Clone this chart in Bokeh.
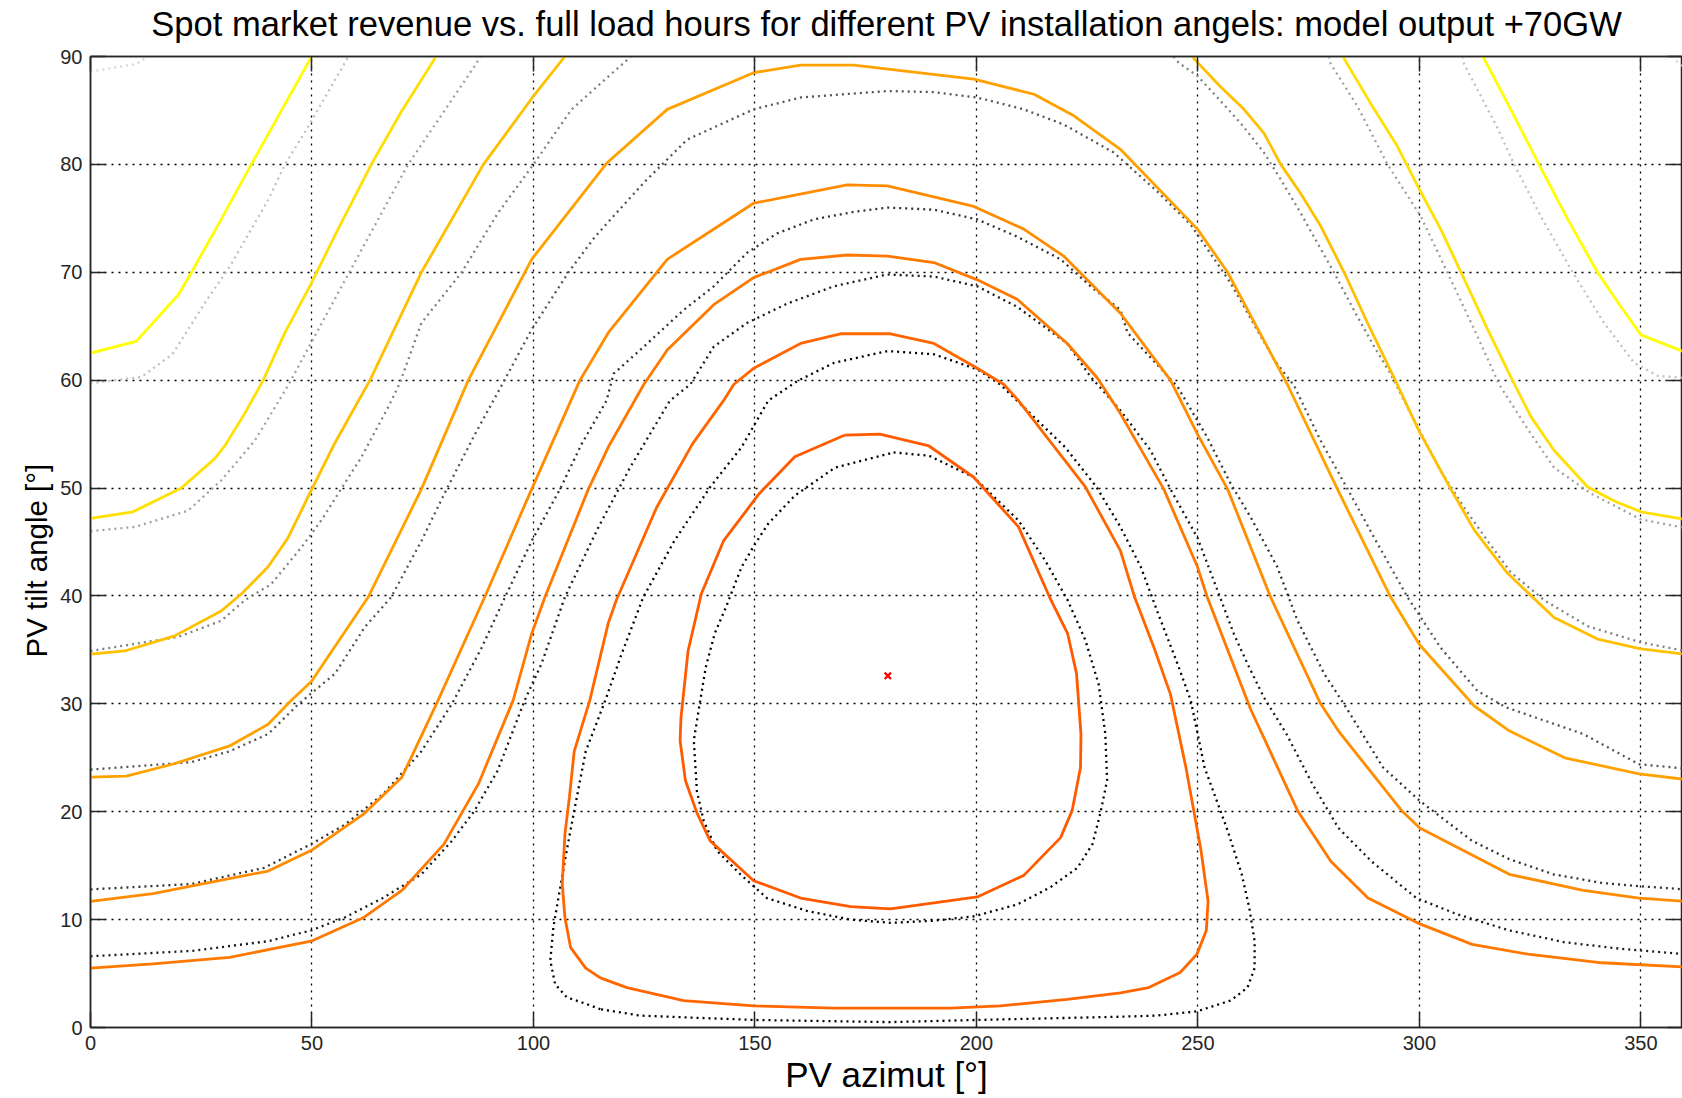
import numpy as np
from bokeh.plotting import figure
from bokeh.models import LinearAxis, Range1d, FixedTicker, Title
from bokeh.embed import file_html
from bokeh.resources import INLINE

nan = float("nan")

TITLE = "Spot market revenue vs. full load hours for different PV installation angels: model output +70GW"

# ---- tick labels ----
x_ticks = [0, 50, 100, 150, 200, 250, 300, 350]
y_ticks = [0, 10, 20, 30, 40, 50, 60, 70, 80, 90]

# ---- model output contours (solid) ----
s1_x = [0, 10.3, 19.8, 22.8, 29.5, 36.3, 42.7, 49.5, 49.9, nan, 314.3, 314.6, 321, 327, 333.5, 340.2, 345.5, 350, 360]
s1_y = [62.5, 63.6, 67.9, 70, 74.9, 80, 84.7, 89.7, 90, nan, 90, 89.8, 84.8, 80, 74.9, 70, 66.8, 64.2, 62.6]

s2_x = [0, 9.6, 20.5, 28, 30.3, 34.8, 39, 43.9, 49.5, 55.9, 63.4, 70.2, 77.7, 77.9, nan,
        282.8, 283, 289.8, 295, 299.6, 304.8, 309.4, 315.4, 321, 325.2, 330.4, 338, 344, 350, 360]
s2_y = [47.2, 47.8, 50, 52.7, 53.9, 56.9, 60, 64.4, 68.7, 74, 80, 84.9, 89.8, 90, nan,
        90, 89.8, 85.1, 81.7, 78, 74, 70, 64.7, 60, 56.6, 53.5, 50.1, 48.8, 47.8, 47.1]

s3_x = [0, 7.7, 19, 29.5, 34.1, 40.1, 44.6, 49.5, 55.2, 63.1, 74.7, 88.7, 100.3, 107.1, nan,
        249, 249.1, 255.1, 260.4, 264.9, 268.7, 273.2, 277.7, 283, 288.3, 295, 299.9, 307.1, 312.4, 319.9, 330.4, 340.2, 350, 360]
s3_y = [34.6, 34.9, 36.3, 38.6, 40.2, 42.7, 45.4, 49.5, 54.2, 60, 70, 80, 86.5, 90, nan,
        90, 89.8, 87.2, 85.1, 82.9, 80, 77.3, 74.3, 70, 65.3, 59.6, 55.3, 49.9, 46.1, 42.1, 38, 36, 35.1, 34.6]

s4_x = [0, 8.1, 18.5, 31.4, 40.1, 45.3, 49.9, 62.7, 74.7, 85.3, 99.6, 116.5, 130.2, 149.7, 160.3, 172.3, 199.4, 213, 222,
        232.5, 249.9, 256.7, 270.2, 281.5, 293.5, 300, 312.4, 320.3, 332.8, 349.6, 360]
s4_y = [23.2, 23.3, 24.4, 26.1, 28.1, 30.3, 32.1, 39.9, 49.9, 60, 71.2, 80.1, 85.1, 88.5, 89.2, 89.2, 87.9, 86.5, 84.5,
        81.4, 74, 70, 59.6, 49.9, 39.9, 35.5, 29.8, 27.5, 25, 23.5, 23]

s5_x = [0, 14.1, 40.1, 49.8, 61.7, 70.3, 78.1, 89, 99.6, 110.5, 116.9, 130.2, 149.7, 170.8, 179.9, 199.4, 210.7, 219.7,
        232.5, 243.8, 249.9, 256.7, 266.4, 277.7, 281.7, 296, 300.1, 320.3, 337, 349.6, 360]
s5_y = [11.7, 12.4, 14.5, 16.4, 19.8, 23.2, 30, 39.9, 49.9, 60, 64.4, 71.2, 76.4, 78.1, 78, 76.1, 74, 71.5,
        66.2, 60, 55, 49.9, 39.9, 30, 27.5, 20.1, 18.5, 14.2, 12.7, 12, 11.7]

s6_x = [0, 14.1, 31.4, 49.8, 61.7, 70.3, 79.8, 87.6, 95.4, 99.6, 102.6, 112.4, 116.9, 124.9, 130.2, 140.7, 149.7, 160.3,
        170.8, 179.9, 190.4, 200.2, 209.2, 220.5, 227.3, 232.5, 242.3, 249.9, 252.1, 261.9, 272.5, 280, 288.4, 300.1,
        311.9, 324.5, 341.2, 360]
s6_y = [5.5, 5.9, 6.5, 8, 10.2, 12.7, 17, 22.6, 30.3, 36.5, 39.9, 49.9, 53.8, 59.6, 62.8, 67, 69.5, 71.2,
        71.6, 71.5, 70.9, 69.3, 67.5, 63.4, 60.2, 56.9, 49.9, 42.7, 39.9, 29.5, 20.1, 15.4, 12, 9.6,
        7.7, 6.8, 6, 5.6]

s7_x = [115.1, 111.8, 108.4, 107.1, 106.5, 107.1, 108.1, 109.2, 112.7, 116.9, 118.7, 127.8, 135.9, 142.9, 145.2, 149.7,
        160.3, 169.3, 180.6, 190.4, 200.2, 206.2, 209.5, 224.6, 232.5, 235.7, 240.1, 243.8, 247.3, 250.7, 252.3, 251.9,
        249.8, 246, 238.9, 232.5, 220.5, 205.4, 194.2, 167.8, 149.7, 133.9, 121.1, 115.1]
s7_y = [4.6, 5.5, 7.4, 10.2, 13.3, 17.9, 21.3, 25.6, 30.3, 37.5, 39.6, 48.2, 54.1, 58.1, 59.6, 61.1,
        63.4, 64.3, 64.3, 63.4, 61.1, 59.6, 58.1, 50.1, 44.2, 39.9, 35.2, 30.9, 24.1, 16.4, 11.7, 9,
        6.8, 5.1, 3.7, 3.2, 2.6, 2, 1.8, 1.8, 2, 2.5, 3.7, 4.6]

s8_x = [170.2, 178.2, 189.3, 199.4, 209.5, 216.5, 220.6, 222.6, 223.6, 223.5, 221.6, 219, 210.7, 200.2, 180.6, 171.6,
        160.3, 149.7, 139.9, 136.9, 134.3, 133.1, 133.3, 134.9, 137.9, 142.9, 151, 159, 170.2]
s8_y = [54.9, 55, 53.9, 51, 46.4, 39.9, 36.5, 32.8, 27.2, 24.1, 20.1, 17.6, 14.1, 12.1, 11, 11.2,
        12, 13.6, 17.3, 19.9, 22.9, 26.6, 28.7, 34.9, 40.2, 45.1, 49.5, 52.9, 54.9]

solid_x = [s1_x, s2_x, s3_x, s4_x, s5_x, s6_x, s7_x, s8_x]
solid_y = [s1_y, s2_y, s3_y, s4_y, s5_y, s6_y, s7_y, s8_y]
solid_colors = ["#FFFF00", "#FFE000", "#FFC000", "#FFA200", "#FF8C00", "#FF7800", "#FF6600", "#FF5A00"]

# ---- reference contours (dotted) ----
d0_x = [0, 10.3, 13, nan, 357, 360]
d0_y = [88.6, 89.3, 90, nan, 90, 88.8]

d1a_x = [0, 11.5, 18.5, 26.2, 31.4, 40.1, 43.9, 48.7, 57.4, 58.2, nan,
         309.8, 310.1, 317.6, 321.4, 327.4, 334.6, 341.7, 348.5, 353.8, 360]
d1a_y = [59.7, 60.3, 62.4, 67.4, 70.5, 76.7, 80, 83.2, 89.4, 90, nan,
         90, 89.3, 83.4, 80, 75.2, 70, 65.3, 61.6, 60.4, 60.2]

d1b_x = [0, 10, 22, 29.5, 37.1, 44.6, 56.7, 71.7, 87.2, 88, nan,
         279.5, 280, 286, 292.8, 300.3, 306.3, 312.4, 318, 325.2, 330.4, 338.7, 350, 360]
d1b_y = [46, 46.4, 47.9, 50.7, 54.4, 59.5, 68.7, 80, 89.4, 90, nan,
         90, 89.3, 85.4, 80, 75.2, 70, 64.7, 59.6, 55, 51.9, 49.5, 47.1, 46.3]

d2_x = [0, 19.8, 29.5, 34.8, 40.8, 47.6, 52.1, 56.7, 61.2, 67.2, 69.8, 74.7, 83.8, 92, 100, 108.6, 116.5, 120.4, 122, nan,
        244.5, 245.7, 249.9, 254.4, 259.7, 264.9, 268.7, 273.2, 277, 280.7, 285.2, 289.8, 293.5, 297.3, 304.8, 310.1,
        315.4, 320.6, 328.2, 338, 350, 360]
d2_y = [34.9, 36.2, 37.7, 39.6, 41.1, 44.5, 47, 50, 52.9, 57.5, 59.7, 65.3, 70, 75.5, 80, 85.1, 88, 89.4, 90, nan,
        90, 89.4, 88.2, 86.2, 83.8, 81.1, 78.6, 75.5, 72.7, 70, 66.5, 63.1, 60.6, 57.5, 51.6, 48.2,
        45.1, 42.2, 39.6, 37.2, 35.7, 34.9]

d3_x = [0, 22.8, 31.4, 40.1, 47, 55.2, 61.9, 67.9, 74.7, 80.4, 86.8, 92.8, 99.6, 107.9, 113.9, 124.9, 134.7, 149.7,
        160.3, 179.9, 190.4, 200.2, 210.7, 219.7, 231, 240.8, 248.4, 257.4, 267.2, 271.7, 277.7, 283.8, 289.8, 297.3,
        304.8, 313.1, 319.4, 337, 349.6, 360]
d3_y = [23.9, 24.6, 25.6, 27.2, 30, 32.8, 37.1, 39.9, 45.1, 49.9, 55, 59.5, 64.7, 70, 73.3, 78.3, 82.3, 85.1,
        86.2, 86.8, 86.7, 86.2, 85.1, 83.7, 81.1, 77.5, 74.4, 69, 61.9, 59.5, 54.4, 49.9, 45.4, 39.9,
        35.2, 31.2, 29.7, 27.2, 24.4, 24]

d4_x = [0, 22.8, 39.2, 49.8, 57.4, 66, 74.7, 81.6, 88.3, 93.6, 99.6, 106, 110.9, 116.5, 118.1, 124.1, 133.9, 140.7,
        148.2, 155, 163.3, 172.3, 179.9, 190.4, 200.2, 209.2, 219, 225.8, 232.5, 234.1, 245.4, 252.1, 257.4, 261.9,
        267.9, 272.5, 278.5, 283.4, 291.8, 300.1, 311.9, 320.3, 330.3, 341.2, 349.6, 360]
d4_y = [12.8, 13.3, 14.8, 17, 18.8, 21.6, 25.6, 30, 35.2, 39.9, 45.1, 49.9, 54.1, 58.1, 60.6, 62.8, 66.5, 68.7,
        71.8, 73.6, 74.9, 75.6, 76, 75.8, 74.9, 73.3, 71.2, 68.7, 66.5, 64.4, 59.4, 54.7, 50.4, 47.3,
        42.7, 37.7, 32.8, 29.7, 24.1, 21, 17.3, 15.6, 14.2, 13.4, 13.1, 12.8]

d5_x = [0, 22.8, 40.1, 49.8, 57.4, 66, 74.7, 81.6, 86.7, 91.9, 98, 101.8, 107.1, 114.7, 121.8, 130.8, 135.4, 140.7,
        148.2, 157.3, 167.8, 179.9, 190.4, 200.2, 209.2, 220.5, 225.8, 232.5, 239.3, 243.8, 249.9, 253.6, 258.1,
        261.2, 264.9, 270, 275.8, 281.7, 289.2, 299.3, 308.5, 320.3, 332.8, 345.4, 360]
d5_y = [6.6, 7.1, 8, 9, 10.2, 12, 14.2, 17.3, 20.1, 23.8, 30.3, 33.7, 39.9, 46.4, 51.9, 58.1, 59.6, 63.1,
        65.3, 67.1, 68.7, 69.8, 69.6, 68.7, 66.8, 63.4, 60.3, 57.2, 53.5, 49.9, 45.4, 41.4, 36.5,
        33.7, 30.6, 27.2, 22.6, 18.5, 15.4, 12, 10.5, 9, 7.9, 7.3, 6.8]

d6_x = [115.1, 111.8, 107.5, 104.9, 103.8, 104.5, 105.8, 107.5, 109.2, 111.8, 116.2, 119.7, 124.8, 131.8, 139.9, 147,
        153, 159.5, 167.8, 179.9, 190.4, 200.2, 205.4, 220, 227.1, 232.5, 237.1, 240.8, 245.4, 248.4, 251.5, 256.5,
        259.9, 261.6, 262.8, 262.8, 261.2, 257.4, 249.8, 240.6, 232.5, 200.2, 180.6, 149.7, 124.1, 115.1]
d6_y = [1.7, 2.2, 2.8, 4, 6.2, 9.3, 12.4, 16.4, 20.1, 25.6, 30.3, 34.4, 39.9, 45.1, 50.1, 53.8,
        58.1, 59.9, 61.6, 62.7, 62.4, 61, 59.6, 53.8, 50.1, 46.4, 42.7, 38.6, 33.7, 30.3, 24.1, 18.5,
        14.2, 11.1, 8, 5.5, 3.7, 2.5, 1.5, 1.1, 1, 0.7, 0.5, 0.7, 1.1, 1.7]

d7_x = [181.3, 189.3, 199.4, 209.5, 215.5, 220.6, 224.6, 227.6, 229.1, 229.5, 228, 226.2, 222.8, 216.7, 209.2, 199.4,
        190.4, 180.6, 171.6, 161.8, 152.7, 146.7, 141.4, 138.4, 136.9, 136.2, 137.4, 138.9, 140.9, 143.4, 147, 150,
        153, 159, 168.1, 181.3]
d7_y = [53.3, 53, 51, 47, 43.3, 39.6, 35.9, 31.8, 27.2, 22.9, 19.9, 17, 14.8, 13, 11.4, 10.3,
        9.9, 9.7, 10, 10.8, 12, 14.2, 16.4, 19.2, 21.9, 26.6, 29.7, 33.4, 36.5, 38.9, 42.7, 44.8,
        46.7, 49.3, 51.9, 53.3]

dotted_x = [d0_x, d1a_x, d1b_x, d2_x, d3_x, d4_x, d5_x, d6_x, d7_x]
dotted_y = [d0_y, d1a_y, d1b_y, d2_y, d3_y, d4_y, d5_y, d6_y, d7_y]
dotted_colors = ["#D6D6D6", "#C0C0C0", "#A0A0A0", "#808080", "#555555", "#333333", "#1A1A1A", "#000000", "#000000"]

# optimum marker
opt_x = [180]
opt_y = [32.6]

FONT = "Liberation Sans"

p = figure(width=1682, height=1098, output_backend="svg", toolbar_location=None,
           x_range=Range1d(0, 359.4), y_range=Range1d(0, 90),
           min_border_left=90, min_border_right=0, min_border_top=56, min_border_bottom=71,
           title=TITLE)

p.title.align = "center"
p.title.text_font = FONT
p.title.text_font_size = "34.6px"
p.title.text_font_style = "normal"
p.title.text_color = "#000000"
p.title.standoff = 2

p.background_fill_color = "white"
p.border_fill_color = "white"
p.outline_line_color = "#262626"
p.outline_line_width = 1.5

for ax in [p.xaxis[0], p.yaxis[0]]:
    ax.major_tick_in = 15
    ax.major_tick_out = 0
    ax.minor_tick_line_color = None
    ax.axis_line_color = "#262626"
    ax.axis_line_width = 1.5
    ax.major_tick_line_color = "#262626"
    ax.major_tick_line_width = 1.5
    ax.major_label_text_font = FONT
    ax.major_label_text_font_size = "20px"
    ax.major_label_text_color = "#262626"
    ax.axis_label_text_font = FONT
    ax.axis_label_text_font_style = "normal"
    ax.axis_label_text_color = "#000000"

p.xaxis.ticker = FixedTicker(ticks=x_ticks)
p.yaxis.ticker = FixedTicker(ticks=y_ticks)
p.xaxis.axis_label = "PV azimut [°]"
p.xaxis.axis_label_text_font_size = "35px"
p.xaxis.major_label_standoff = 8
p.yaxis.major_label_standoff = 8
p.xaxis.axis_label_standoff = 2

# y axis title: starts 370 px above the frame bottom, as in the reference
ylab = Title(text="PV tilt angle [°]", align="left", offset=370, standoff=10,
             text_font=FONT, text_font_size="29.5px", text_font_style="normal", text_color="#000000")
p.add_layout(ylab, "left")

# top and right axes (ticks only)
top = LinearAxis(ticker=FixedTicker(ticks=x_ticks), major_tick_in=15, major_tick_out=0,
                 major_label_text_font_size="1px", major_label_text_color=None, major_label_standoff=0,
                 minor_tick_line_color=None, axis_line_color="#262626", axis_line_width=1.5,
                 major_tick_line_color="#262626", major_tick_line_width=1.5)
p.add_layout(top, "above")
# invisible spacer axis that lifts the title to its place
spacer = LinearAxis(ticker=FixedTicker(ticks=x_ticks), major_tick_in=0, major_tick_out=13,
                    major_tick_line_color=None, axis_line_color=None, minor_tick_line_color=None,
                    major_label_text_font_size="1px", major_label_text_color=None, major_label_standoff=0)
p.add_layout(spacer, "above")
right = LinearAxis(ticker=FixedTicker(ticks=y_ticks), major_tick_in=15, major_tick_out=0,
                   major_label_text_font_size="1px", major_label_text_color=None, major_label_standoff=0,
                   minor_tick_line_color=None, axis_line_color="#262626", axis_line_width=1.5,
                   major_tick_line_color="#262626", major_tick_line_width=1.5)
p.add_layout(right, "right")

p.xgrid.ticker = FixedTicker(ticks=x_ticks)
p.ygrid.ticker = FixedTicker(ticks=y_ticks)
for g in [p.xgrid[0], p.ygrid[0]]:
    g.grid_line_color = "#000000"
    g.grid_line_dash = "2 5"
    g.grid_line_width = 1.3
    g.grid_line_alpha = 1.0

for xs, ys, c in zip(dotted_x, dotted_y, dotted_colors):
    p.line(xs, ys, line_color=c, line_width=2.3, line_dash="2 4")

for xs, ys, c in zip(solid_x, solid_y, solid_colors):
    p.line(xs, ys, line_color=c, line_width=2.8)

p.scatter(opt_x, opt_y, marker="x", size=9, line_color="#FF0000", line_width=2.2)

open("out.html", "w").write(file_html(p, INLINE))
